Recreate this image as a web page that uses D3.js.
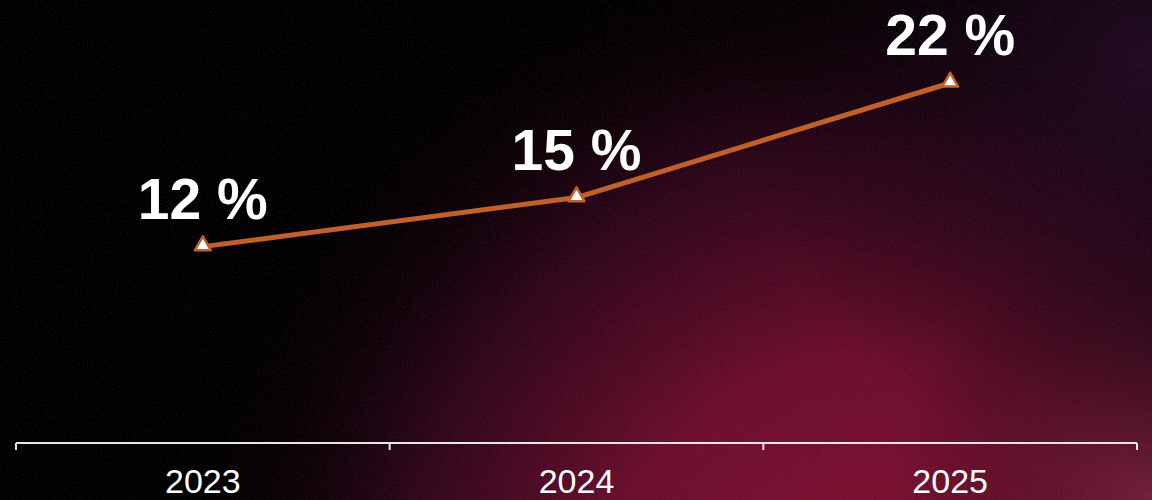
<!DOCTYPE html>
<html>
<head>
<meta charset="utf-8">
<script src="https://cdn.jsdelivr.net/npm/d3@7"></script>
<style>
  html, body { margin: 0; padding: 0; background: #000; }
  svg { display: block; }
</style>
</head>
<body>
<div id="chart"></div>
<script>
// chart data
var years = ["2023", "2024", "2025"];
var shares = [12, 15, 22];
var labels = ["12 %", "15 %", "22 %"];

var width = 1152, height = 500;
var margin = {left: 16, right: 15, axisY: 443};

var svg = d3.select("#chart").append("svg")
    .attr("width", width)
    .attr("height", height);

var defs = svg.append("defs");

// background glow
var glowRed = defs.append("radialGradient")
    .attr("id", "glowRed")
    .attr("gradientUnits", "userSpaceOnUse")
    .attr("cx", 880).attr("cy", 640).attr("r", 720);
glowRed.append("stop").attr("offset", "0%").attr("stop-color", "#8a1236").attr("stop-opacity", 1);
glowRed.append("stop").attr("offset", "40%").attr("stop-color", "#700f2e").attr("stop-opacity", 0.95);
glowRed.append("stop").attr("offset", "68%").attr("stop-color", "#3a0820").attr("stop-opacity", 0.8);
glowRed.append("stop").attr("offset", "100%").attr("stop-color", "#000").attr("stop-opacity", 0);

var glowPurple = defs.append("radialGradient")
    .attr("id", "glowPurple")
    .attr("gradientUnits", "userSpaceOnUse")
    .attr("cx", 1152).attr("cy", 60).attr("r", 420);
glowPurple.append("stop").attr("offset", "0%").attr("stop-color", "#2a0c2a").attr("stop-opacity", 0.8);
glowPurple.append("stop").attr("offset", "100%").attr("stop-color", "#000").attr("stop-opacity", 0);

var glowMauve = defs.append("radialGradient")
    .attr("id", "glowMauve")
    .attr("gradientUnits", "userSpaceOnUse")
    .attr("cx", 1152).attr("cy", 500).attr("r", 260);
glowMauve.append("stop").attr("offset", "0%").attr("stop-color", "#7a2a46").attr("stop-opacity", 0.6);
glowMauve.append("stop").attr("offset", "100%").attr("stop-color", "#000").attr("stop-opacity", 0);

var grain = defs.append("filter").attr("id", "grain");
grain.append("feTurbulence")
    .attr("type", "fractalNoise")
    .attr("baseFrequency", 0.8)
    .attr("numOctaves", 2)
    .attr("stitchTiles", "stitch");
grain.append("feColorMatrix")
    .attr("type", "matrix")
    .attr("values", "0 0 0 0 0.6  0 0 0 0 0.2  0 0 0 0 0.4  1.6 0 0 0 -0.75");

svg.append("rect").attr("width", width).attr("height", height).attr("fill", "#000");
svg.append("rect").attr("width", width).attr("height", height).attr("fill", "url(#glowRed)");
svg.append("rect").attr("width", width).attr("height", height).attr("fill", "url(#glowPurple)");
svg.append("rect").attr("width", width).attr("height", height).attr("fill", "url(#glowMauve)");
svg.append("rect").attr("width", width).attr("height", height)
    .attr("filter", "url(#grain)").attr("opacity", 0.18);

// scales
var x = d3.scaleBand()
    .domain(years)
    .range([margin.left, width - margin.right])
    .padding(0);

var y = d3.scaleLinear()
    .domain([0, 22])
    .range([margin.axisY, 83]);

var cx = function(d) { return x(d) + x.bandwidth() / 2; };

// axis line with ticks at band edges
var axis = svg.append("g").attr("class", "axis");
axis.append("line")
    .attr("x1", x.range()[0]).attr("x2", x.range()[1])
    .attr("y1", margin.axisY).attr("y2", margin.axisY)
    .attr("stroke", "#e6e6e6").attr("stroke-width", 2);

var edges = years.map(function(d) { return x(d); }).concat([x.range()[1]]);
axis.selectAll(".tick")
    .data(edges)
    .enter().append("line")
    .attr("class", "tick")
    .attr("x1", function(d) { return d; })
    .attr("x2", function(d) { return d; })
    .attr("y1", margin.axisY)
    .attr("y2", margin.axisY + 7)
    .attr("stroke", "#e6e6e6").attr("stroke-width", 2);

axis.selectAll(".year")
    .data(years)
    .enter().append("text")
    .attr("class", "year")
    .attr("x", cx)
    .attr("y", 493)
    .attr("text-anchor", "middle")
    .attr("fill", "#fff")
    .style("font-family", "'Liberation Sans', Arial, sans-serif")
    .style("font-size", "34px")
    .text(function(d) { return d; });

// line
var pts = years.map(function(d, i) { return [cx(d), y(shares[i])]; });

svg.append("path")
    .datum(pts)
    .attr("fill", "none")
    .attr("stroke", "#c2602a")
    .attr("stroke-width", 5)
    .attr("stroke-linejoin", "round")
    .attr("d", d3.line());

// markers
svg.selectAll(".marker")
    .data(pts)
    .enter().append("path")
    .attr("class", "marker")
    .attr("transform", function(d) { return "translate(" + d[0] + "," + (d[1] - 1) + ")"; })
    .attr("d", d3.symbol().type(d3.symbolTriangle).size(110))
    .attr("fill", "#fff")
    .attr("stroke", "#c2602a")
    .attr("stroke-width", 2.5)
    .attr("stroke-linejoin", "round");

// value labels
svg.selectAll(".value")
    .data(pts)
    .enter().append("text")
    .attr("class", "value")
    .attr("x", function(d) { return d[0]; })
    .attr("y", function(d) { return d[1] - 28; })
    .attr("text-anchor", "middle")
    .attr("fill", "#fff")
    .style("font-family", "'Liberation Sans', Arial, sans-serif")
    .style("font-weight", "bold")
    .style("font-size", "57px")
    .text(function(d, i) { return labels[i]; });
</script>
</body>
</html>
